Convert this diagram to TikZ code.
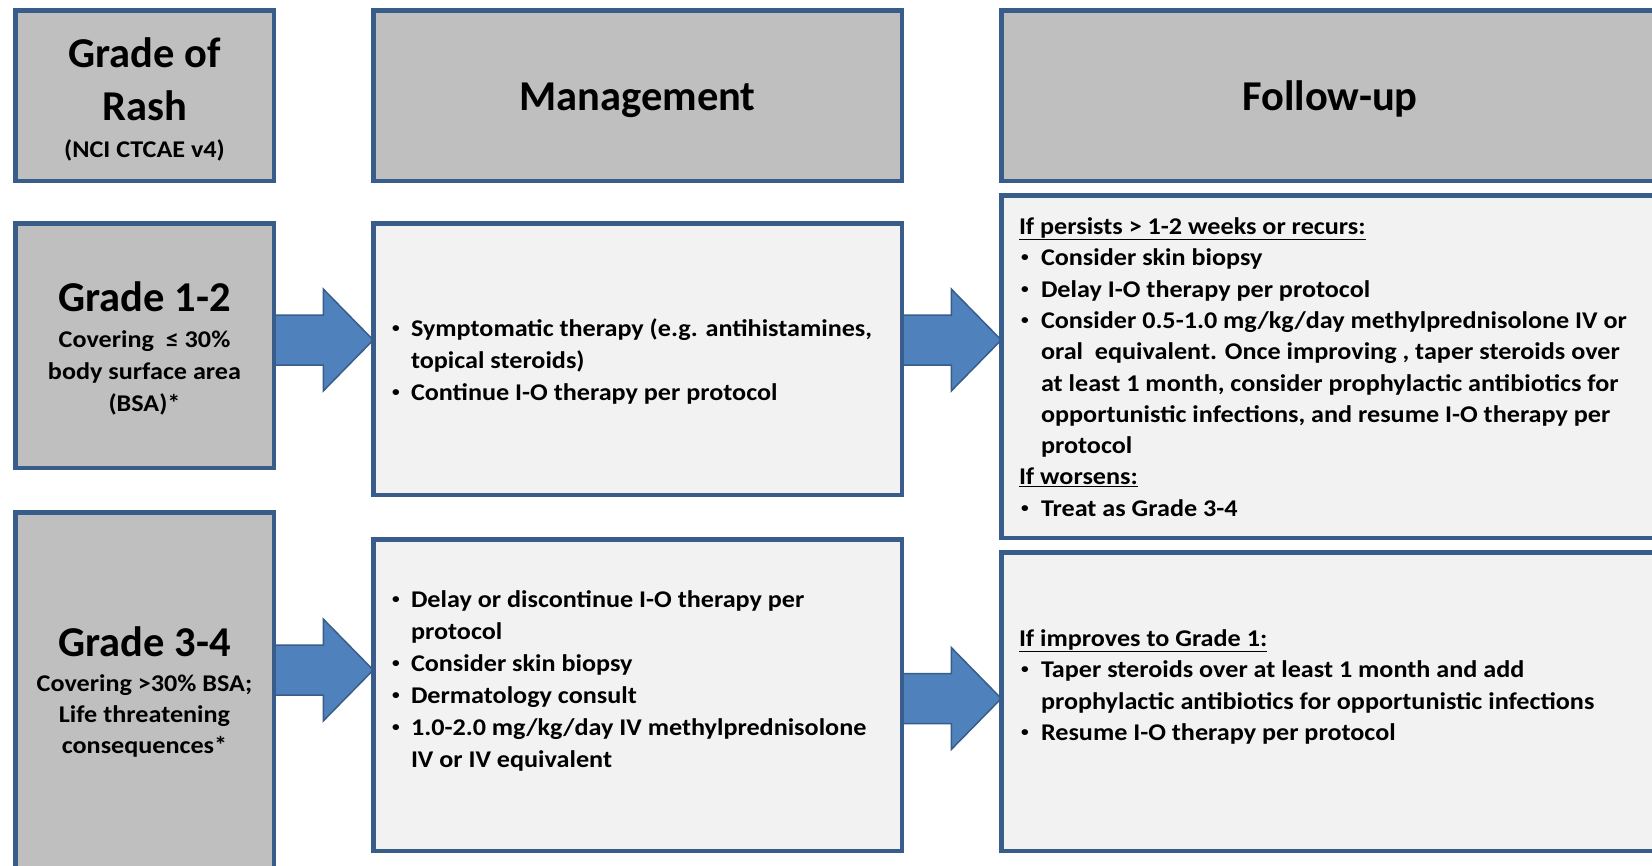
\documentclass[tikz,border=0pt]{standalone}
\usepackage{fontspec}
\setmainfont{Carlito}
\newfontfamily\widecarlito{Carlito}[FakeStretch=1.09]
\usetikzlibrary{calc,backgrounds}
\definecolor{bord}{HTML}{385D8A}
\definecolor{hdrfill}{HTML}{BFBFBF}
\definecolor{bodyfill}{HTML}{F2F2F2}
\definecolor{arrfill}{HTML}{4F81BD}
\newcommand{\fhdr}{\fontsize{42.5}{47}\selectfont\bfseries}
\newcommand{\fgrade}{\fontsize{42.5}{48}\selectfont\bfseries}
\newcommand{\fsub}{\widecarlito\fontsize{24}{32}\selectfont\bfseries}
\newcommand{\fsubb}{\widecarlito\fontsize{24}{31}\selectfont\bfseries}
\newcommand{\fbody}{\widecarlito\fontsize{24}{32}\selectfont\bfseries}
\newcommand{\ffu}{\widecarlito\fontsize{24}{31.3}\selectfont\bfseries}
\newcommand{\smbul}{\raisebox{4pt}{\fontsize{14}{14}\selectfont\textbullet}}
\newcommand{\mbul}{\makebox[19pt][l]{\smbul}}
\newcommand{\mind}{\hspace*{19pt}}
\newcommand{\fbul}{\hspace*{2pt}\makebox[20pt][l]{\smbul}}
\newcommand{\find}{\hspace*{22pt}}
\newcommand{\bigarrow}[3]{%
  \coordinate (tmpT) at (#1.east |- 0,#3);
  \coordinate (tmpH) at (#2.west |- 0,#3);
  \draw[arrowsty] ($(tmpT)+(0,-25)$) -- ($(tmpH)+(-50,-25)$) -- ($(tmpH)+(-50,-51)$) -- (tmpH)
     -- ($(tmpH)+(-50,51)$) -- ($(tmpH)+(-50,25)$) -- ($(tmpT)+(0,25)$) -- cycle;}
\tikzset{
  hdr/.style={draw=bord, line width=4.5pt, fill=hdrfill, inner sep=0pt, outer sep=0pt},
  bodybox/.style={draw=bord, line width=4.5pt, fill=bodyfill, inner sep=0pt, outer sep=0pt},
  arrowsty/.style={draw=bord, line width=1.5pt, fill=arrfill, line join=miter},
  txt/.style={inner sep=0pt, outer sep=0pt, anchor=base},
  btxt/.style={inner sep=0pt, outer sep=0pt, anchor=base west}
}
\begin{document}
\begin{tikzpicture}[x=1pt,y=-1pt]
\useasboundingbox (0,0) rectangle (1652,865);
\clip (0,0) rectangle (1652,865);
% header row
\node[hdr, minimum width=258.5pt, minimum height=170.5pt] (H1) at (144.5,95.5) {};
\node[hdr, minimum width=528.5pt, minimum height=170.5pt] (H2) at (637.5,95.5) {};
\node[hdr, minimum width=658.5pt, minimum height=170.5pt] (H3) at (1330.5,95.5) {};
% grade 1-2 row
\node[hdr, minimum width=258.5pt, minimum height=244.5pt] (G12) at (144.5,345.5) {};
\node[bodybox, minimum width=528.5pt, minimum height=271.5pt] (M1) at (637.5,359) {};
\node[bodybox, minimum width=658.5pt, minimum height=342.5pt] (F1) at (1330.5,366.5) {};
% grade 3-4 row
\node[hdr, minimum width=258.5pt, minimum height=365.5pt] (G34) at (144.5,695) {};
\node[bodybox, minimum width=528.5pt, minimum height=311.5pt] (M2) at (637.5,695) {};
\node[bodybox, minimum width=658.5pt, minimum height=298.5pt] (F2) at (1330.5,701.5) {};
% arrows
\begin{scope}[on background layer]
\bigarrow{G12}{M1}{340}
\bigarrow{M1}{F1}{340}
\bigarrow{G34}{M2}{670}
\bigarrow{M2}{F2}{698.5}
\end{scope}
% header texts
\node[txt, font=\fhdr] (h1a) at (144.5,67) {Grade of};
\node[txt, font=\fhdr] (h1b) at (144.5,120) {Rash};
\node[txt, font=\fsub] (h1c) at (144.5,157) {(NCI CTCAE v4)};
\node[txt, font=\fhdr] (h2a) at (637.5,110) {Management};
\node[txt, font=\fhdr] (h3a) at (1330,110) {Follow-up};
% grade texts
\node[txt, font=\fgrade] (g12a) at (144.5,311) {Grade 1-2};
\node[txt] (g12b) at (144.5,347.5) {\parbox[t]{250pt}{\centering\fsub
Covering\ \ ≤ 30\%\\body surface area\\(BSA)*}};
\node[txt, font=\fgrade] (g34a) at (144.5,656) {Grade 3-4};
\node[txt] (g34b) at (144.5,691.5) {\parbox[t]{250pt}{\centering\fsubb
Covering >30\% BSA;\\Life threatening\\consequences*}};
% management texts
\node[btxt] (m1t) at (392,336) {\parbox[t]{500pt}{\fbody\raggedright
\mbul Symptomatic therapy (e.g. antihistamines,\\
\mind topical steroids)\\
\mbul Continue I-O therapy per protocol}};
\node[btxt] (m2t) at (392,607.5) {\parbox[t]{500pt}{\fbody\raggedright
\mbul Delay or discontinue I-O therapy per\\
\mind protocol\\
\mbul Consider skin biopsy\\
\mbul Dermatology consult\\
\mbul 1.0-2.0 mg/kg/day IV methylprednisolone\\
\mind IV or IV equivalent}};
% follow-up texts
\node[btxt] (f1t) at (1019,234.5) {\parbox[t]{630pt}{\ffu\raggedright
\underline{If persists > 1-2 weeks or recurs:}\\
\fbul Consider skin biopsy\\
\fbul Delay I-O therapy per protocol\\
\fbul Consider 0.5-1.0 mg/kg/day methylprednisolone IV or\\
\find oral\ \ equivalent. Once improving , taper steroids over\\
\find at least 1 month, consider prophylactic antibiotics for\\
\find opportunistic infections, and resume I-O therapy per\\
\find protocol\\
\underline{If worsens:}\\
\fbul Treat as Grade 3-4}};
\node[btxt] (f2t) at (1019,646.5) {\parbox[t]{630pt}{\ffu\raggedright
\underline{If improves to Grade 1:}\\
\fbul Taper steroids over at least 1 month and add\\
\find prophylactic antibiotics for opportunistic infections\\
\fbul Resume I-O therapy per protocol}};
\end{tikzpicture}
\end{document}
